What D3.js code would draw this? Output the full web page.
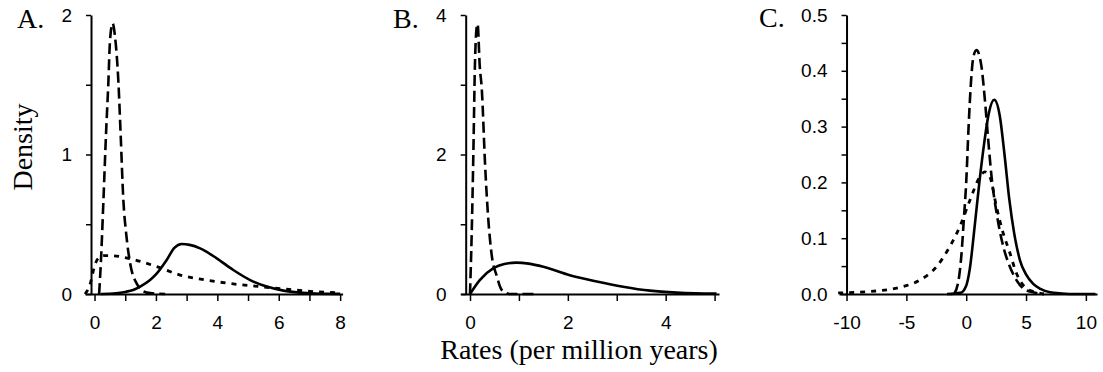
<!DOCTYPE html>
<html><head><meta charset="utf-8">
<script src="https://cdn.jsdelivr.net/npm/d3@7"></script>
<style>body{margin:0;background:#fff}svg{display:block}</style>
</head><body>
<svg id="c" width="1103" height="372"></svg>
<script>
// ---------- data ----------
// Panel A
const aSolidX  = [0.2,0.7,1.0,1.26,1.5,1.81,2.0,2.35,2.6,2.84,3.1,3.44,3.98,4.52,5.07,5.61,6.15,6.69,7.2,8.0];
const aSolidY  = [0,0.005,0.015,0.029,0.055,0.1,0.14,0.244,0.33,0.358,0.352,0.327,0.256,0.172,0.1,0.053,0.024,0.01,0.004,0.001];
const aDashX   = [0.15,0.21,0.29,0.375,0.45,0.505,0.59,0.67,0.78,0.85,0.94,1.03,1.16,1.37,1.7,2.3];
const aDashY   = [0,0.24,0.67,1.15,1.51,1.82,1.94,1.84,1.51,1.15,0.67,0.435,0.22,0.077,0.01,0];
const aDotX    = [-0.31,-0.15,0,0.1,0.3,0.5,1.1,2.03,2.79,3.65,4.52,5.39,6.26,7.13,7.89];
const aDotY    = [0,0.065,0.2,0.25,0.275,0.275,0.256,0.196,0.136,0.1,0.072,0.053,0.034,0.017,0.01];
// Panel B
const bSolidX  = [0,0.2,0.48,0.7,0.95,1.2,1.5,2.04,2.59,3.13,3.68,4.23,4.6,5.04];
const bSolidY  = [0,0.2,0.37,0.43,0.45,0.435,0.39,0.27,0.18,0.105,0.048,0.02,0.01,0.005];
const bDashX   = [0,0.035,0.07,0.1,0.13,0.155,0.2,0.24,0.31,0.37,0.44,0.55,0.65,0.82,1.36];
const bDashY   = [0,0.87,2.06,3.26,3.78,3.87,3.26,2.95,1.83,1.11,0.58,0.25,0.057,0,0];
// Panel C
const cSolidX  = [-1.6,-0.5,0,0.3,0.7,1.1,1.5,1.9,2.34,2.8,3.2,3.6,4.0,4.5,5.0,5.6,6.2,7.0,8.0,9.0,10.8];
const cSolidY  = [0,0.002,0.015,0.045,0.12,0.2,0.27,0.325,0.348,0.32,0.25,0.17,0.11,0.06,0.035,0.018,0.009,0.003,0.001,0,0];
const cDashX   = [-1.0,-0.6,-0.4,-0.2,0,0.2,0.4,0.6,0.86,1.28,1.56,1.84,2.12,2.54,3.1,3.65,4.2,4.76,5.6,6.5];
const cDashY   = [0,0.03,0.07,0.133,0.2,0.3,0.38,0.425,0.437,0.407,0.348,0.276,0.21,0.145,0.085,0.049,0.025,0.01,0.003,0];
const cDotX    = [-10.7,-8.33,-5.54,-3.87,-2.48,-1.37,-0.53,0.31,1.14,1.56,1.98,2.53,3.09,3.6,4.2,5.04,5.87,6.5];
const cDotY    = [0.002,0.004,0.012,0.025,0.049,0.085,0.121,0.168,0.21,0.219,0.21,0.156,0.109,0.077,0.037,0.01,0.003,0];

// tick labels / values
const aXTicks = [0,1,2,3,4,5,6,7,8], aXLabels = ["0","","2","","4","","6","","8"];
const aYTicks = [0,0.5,1,1.5,2],     aYLabels = ["0","","1","","2"];
const bXTicks = [0,1,2,3,4,5],       bXLabels = ["0","","2","","4",""];
const bYTicks = [0,1,2,3,4],         bYLabels = ["0","","2","","4"];
const cXTicks = [-10,-5,0,5,10],     cXLabels = ["-10","-5","0","5","10"];
const cYTicks = [0,0.05,0.1,0.15,0.2,0.25,0.3,0.35,0.4,0.45,0.5];
const cYLabels = ["0.0","","0.1","","0.2","","0.3","","0.4","","0.5"];

const panelLetters = ["A.","B.","C."];
const yTitle = "Density", xTitle = "Rates (per million years)";

// ---------- layout ----------
const svg = d3.select("#c");
const Y0 = 294, Y1 = 15;
const panels = [
  {letter:panelLetters[0], xDom:[-0.31,8.08], xRange:[85,342.6], yAxisAt:-0.114, yDom:[0,2],
   xTicks:aXTicks, xLabels:aXLabels, yTicks:aYTicks, yLabels:aYLabels,
   series:[{x:aDotX,y:aDotY,dash:"5,6",w:2.8},{x:aSolidX,y:aSolidY,dash:null,w:2.6},{x:aDashX,y:aDashY,dash:"11,5",w:2.6}],
   letterPos:[17,28]},
  {letter:panelLetters[1], xDom:[-0.19,5.09], xRange:[460.7,719], yAxisAt:-0.088, yDom:[0,4],
   xTicks:bXTicks, xLabels:bXLabels, yTicks:bYTicks, yLabels:bYLabels,
   series:[{x:bSolidX,y:bSolidY,dash:null,w:2.6},{x:bDashX,y:bDashY,dash:"11,5",w:2.6}],
   letterPos:[393,28]},
  {letter:panelLetters[2], xDom:[-10.63,10.93], xRange:[839,1097], yAxisAt:-10, yDom:[0,0.5],
   xTicks:cXTicks, xLabels:cXLabels, yTicks:cYTicks, yLabels:cYLabels,
   series:[{x:cDotX,y:cDotY,dash:"5,6",w:2.8},{x:cSolidX,y:cSolidY,dash:null,w:2.6},{x:cDashX,y:cDashY,dash:"11,5",w:2.6}],
   letterPos:[759,27]}
];

panels.forEach(p => {
  const x = d3.scaleLinear().domain(p.xDom).range(p.xRange);
  const y = d3.scaleLinear().domain(p.yDom).range([Y0, Y1]);
  const g = svg.append("g");

  // x axis
  const xa = d3.axisBottom(x).tickValues(p.xTicks).tickSizeInner(7).tickSizeOuter(0).tickPadding(15)
    .tickFormat((d,i) => p.xLabels[i]);
  const gx = g.append("g").attr("transform", `translate(0,${Y0})`).call(xa);
  gx.select(".domain").attr("stroke","#000").attr("stroke-width",2);
  gx.selectAll(".tick line").attr("stroke","#000").attr("stroke-width",1.5);
  gx.selectAll("text").attr("font-family","'Liberation Sans', Arial, sans-serif").attr("font-size",19).attr("fill","#000");

  // y axis
  const ya = d3.axisLeft(y).tickValues(p.yTicks).tickSizeInner(5).tickSizeOuter(0).tickPadding(14)
    .tickFormat((d,i) => p.yLabels[i]);
  const gy = g.append("g").attr("transform", `translate(${x(p.yAxisAt)},0)`).call(ya);
  gy.select(".domain").attr("stroke","#000").attr("stroke-width",2);
  gy.selectAll(".tick line").attr("stroke","#000").attr("stroke-width",1.5);
  gy.selectAll("text").attr("font-family","'Liberation Sans', Arial, sans-serif").attr("font-size",19).attr("fill","#000");

  // curves
  const line = d3.line().x(d => x(d[0])).y(d => y(d[1])).curve(d3.curveMonotoneX);
  p.series.forEach(s => {
    const pts = s.x.map((v,i) => [v, s.y[i]]);
    g.append("path").attr("d", line(pts)).attr("fill","none").attr("stroke","#000")
      .attr("stroke-width",s.w).attr("stroke-dasharray", s.dash);
  });

  // panel letter
  g.append("text").attr("x",p.letterPos[0]).attr("y",p.letterPos[1])
    .attr("font-family","'Liberation Serif', 'Times New Roman', serif").attr("font-size",28)
    .text(p.letter);
});

// axis titles
svg.append("text").attr("transform","translate(32,147) rotate(-90)").attr("text-anchor","middle")
  .attr("font-family","'Liberation Serif', 'Times New Roman', serif").attr("font-size",28).text(yTitle);
svg.append("text").attr("x",579).attr("y",359).attr("text-anchor","middle")
  .attr("font-family","'Liberation Serif', 'Times New Roman', serif").attr("font-size",28).text(xTitle);
</script>
</body></html>
